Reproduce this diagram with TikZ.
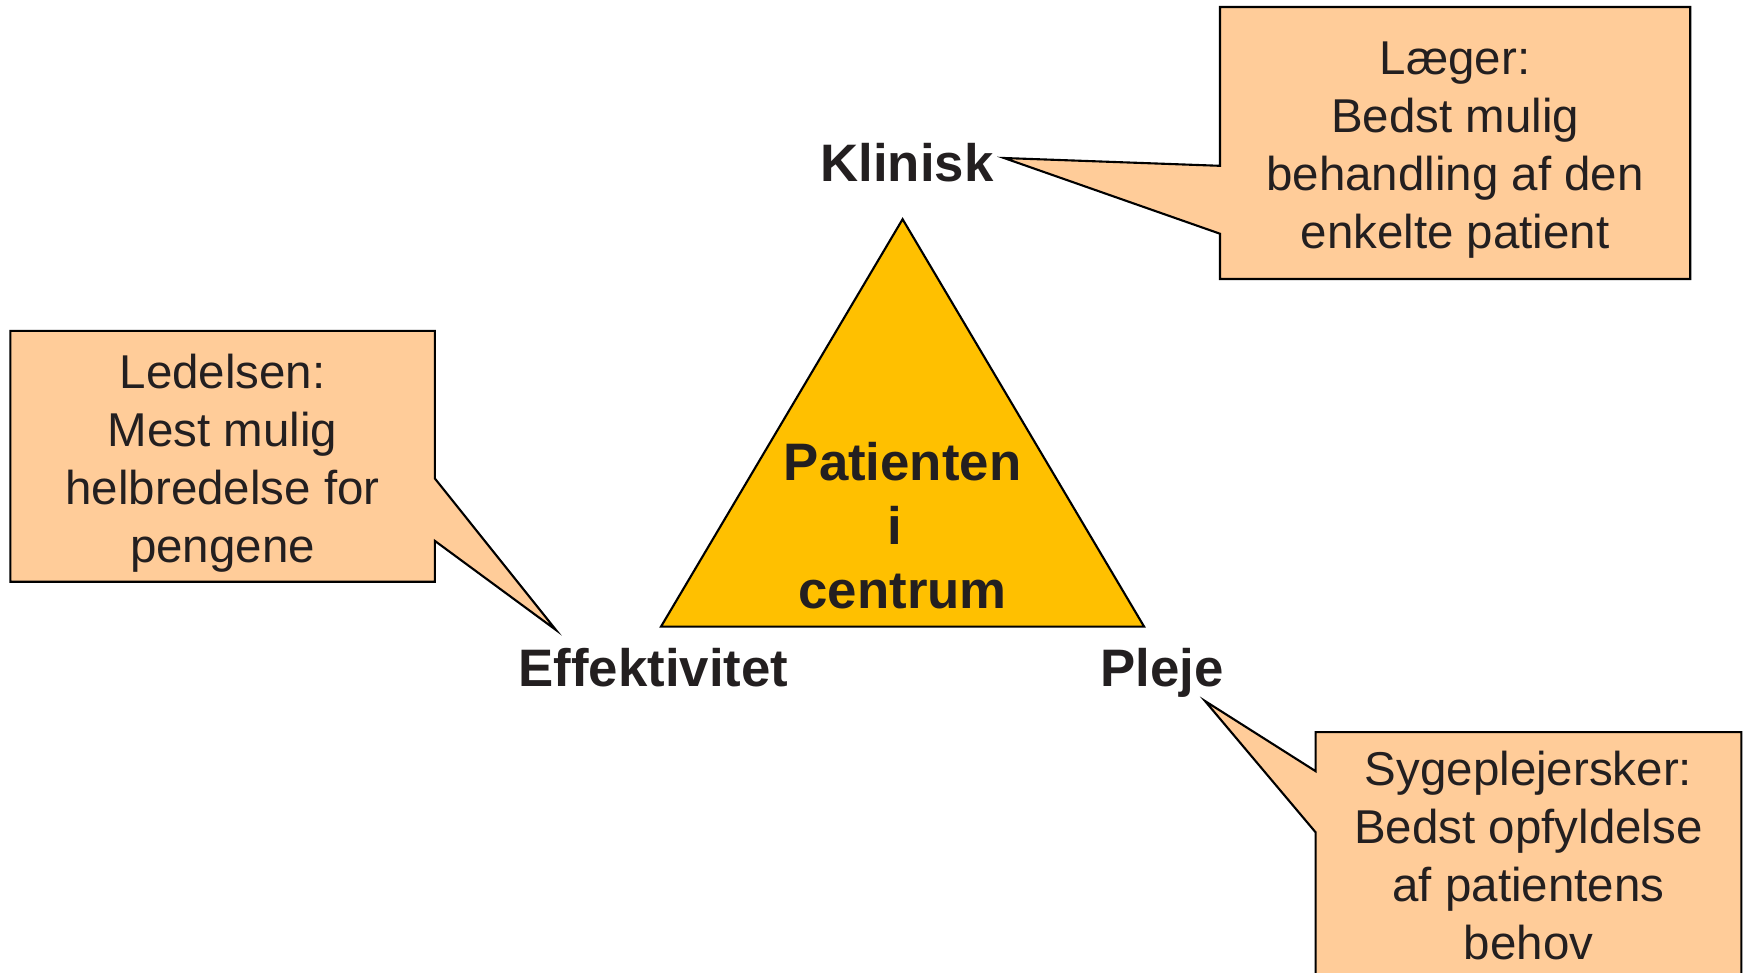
\documentclass[tikz,border=0pt]{standalone}
\usepackage{fontspec}
\setmainfont{Liberation Sans}
\usetikzlibrary{positioning,backgrounds}
\definecolor{peach}{HTML}{FFCC99}
\definecolor{gold}{HTML}{FFC000}
\definecolor{ink}{HTML}{231F20}

\begin{document}
\begin{tikzpicture}[x=0.01cm,y=-0.01cm,
    box/.style={inner sep=0pt},
    bubble/.style={inner sep=0pt,align=center,text=ink,
                   font=\fontsize{13.5}{16.5}\selectfont},
    outline/.style={draw=black,fill=peach,line width=0.6pt},
    lbl/.style={anchor=base,text=ink,font=\bfseries\fontsize{15}{18}\selectfont},
    ctr/.style={align=center,text=ink,font=\bfseries\fontsize{15}{18.2}\selectfont}]

          \useasboundingbox (0,0) rectangle (1745,972);
          \clip (0,0) rectangle (1745,972);

          \coordinate (apex)  at (902.6,219.2);
          \coordinate (baseL) at (661,626.6);
          \coordinate (baseR) at (1144.1,626.6);
          \draw[fill=gold,line width=0.6pt] (apex) -- (baseL) -- (baseR) -- cycle;
          \node[ctr]  (centrum) at (902.6,526) {Patienten\\i\kern0.278em\\centrum};

          \node[lbl]  (klinisk) at (907,181.4)   {Klinisk};
          \node[lbl]  (effekt)  at (653.3,686.7) {Effektivitet};
          \node[lbl]  (pleje)   at (1162,686.7)  {Pleje};

          \coordinate (kTip) at (1004,158);
          \coordinate (eTip) at (556,630);
          \coordinate (pTip) at (1205,701);

          \node[box,minimum width=4.686cm,minimum height=2.704cm] (laeger)  at (1455.1,143)   {};
          \node[box,minimum width=4.229cm,minimum height=2.494cm] (ledelse) at (222.6,456.3)  {};
          \node[box,minimum width=4.24cm,minimum height=2.49cm]   (syge)    at (1528.5,857.4) {};

          \node[bubble] (laegerTxt)  at ([yshift=-0.067cm]laeger)
               {Læger:\\Bedst mulig\\behandling af den\\enkelte patient};
          \node[bubble] (ledelseTxt) at ([yshift=-0.067cm]ledelse)
               {Ledelsen:\\Mest mulig\\helbredelse for\\pengene};
          \node[bubble] (sygeTxt)    at ([yshift=0.022cm]syge)
               {Sygeplejersker:\\Bedst opfyldelse\\af patientens\\behov};

          \begin{scope}[on background layer]
            \draw[outline] (laeger.north west) -- (laeger.north east) -- (laeger.south east)
                  -- (laeger.south west) -- (laeger.west |- 0,233.7) -- (kTip)
                  -- (laeger.west |- 0,165.8) -- cycle;
            \draw[outline] (ledelse.north west) -- (ledelse.north east) -- (ledelse.east |- 0,478.5)
                  -- (eTip) -- (ledelse.east |- 0,540.9) -- (ledelse.south east)
                  -- (ledelse.south west) -- cycle;
            \draw[outline] (syge.north west) -- (syge.north east) -- (syge.south east)
                  -- (syge.south west) -- (syge.west |- 0,832.4) -- (pTip)
                  -- (syge.west |- 0,771.2) -- cycle;
          \end{scope}
        \end{tikzpicture}
\end{document}
